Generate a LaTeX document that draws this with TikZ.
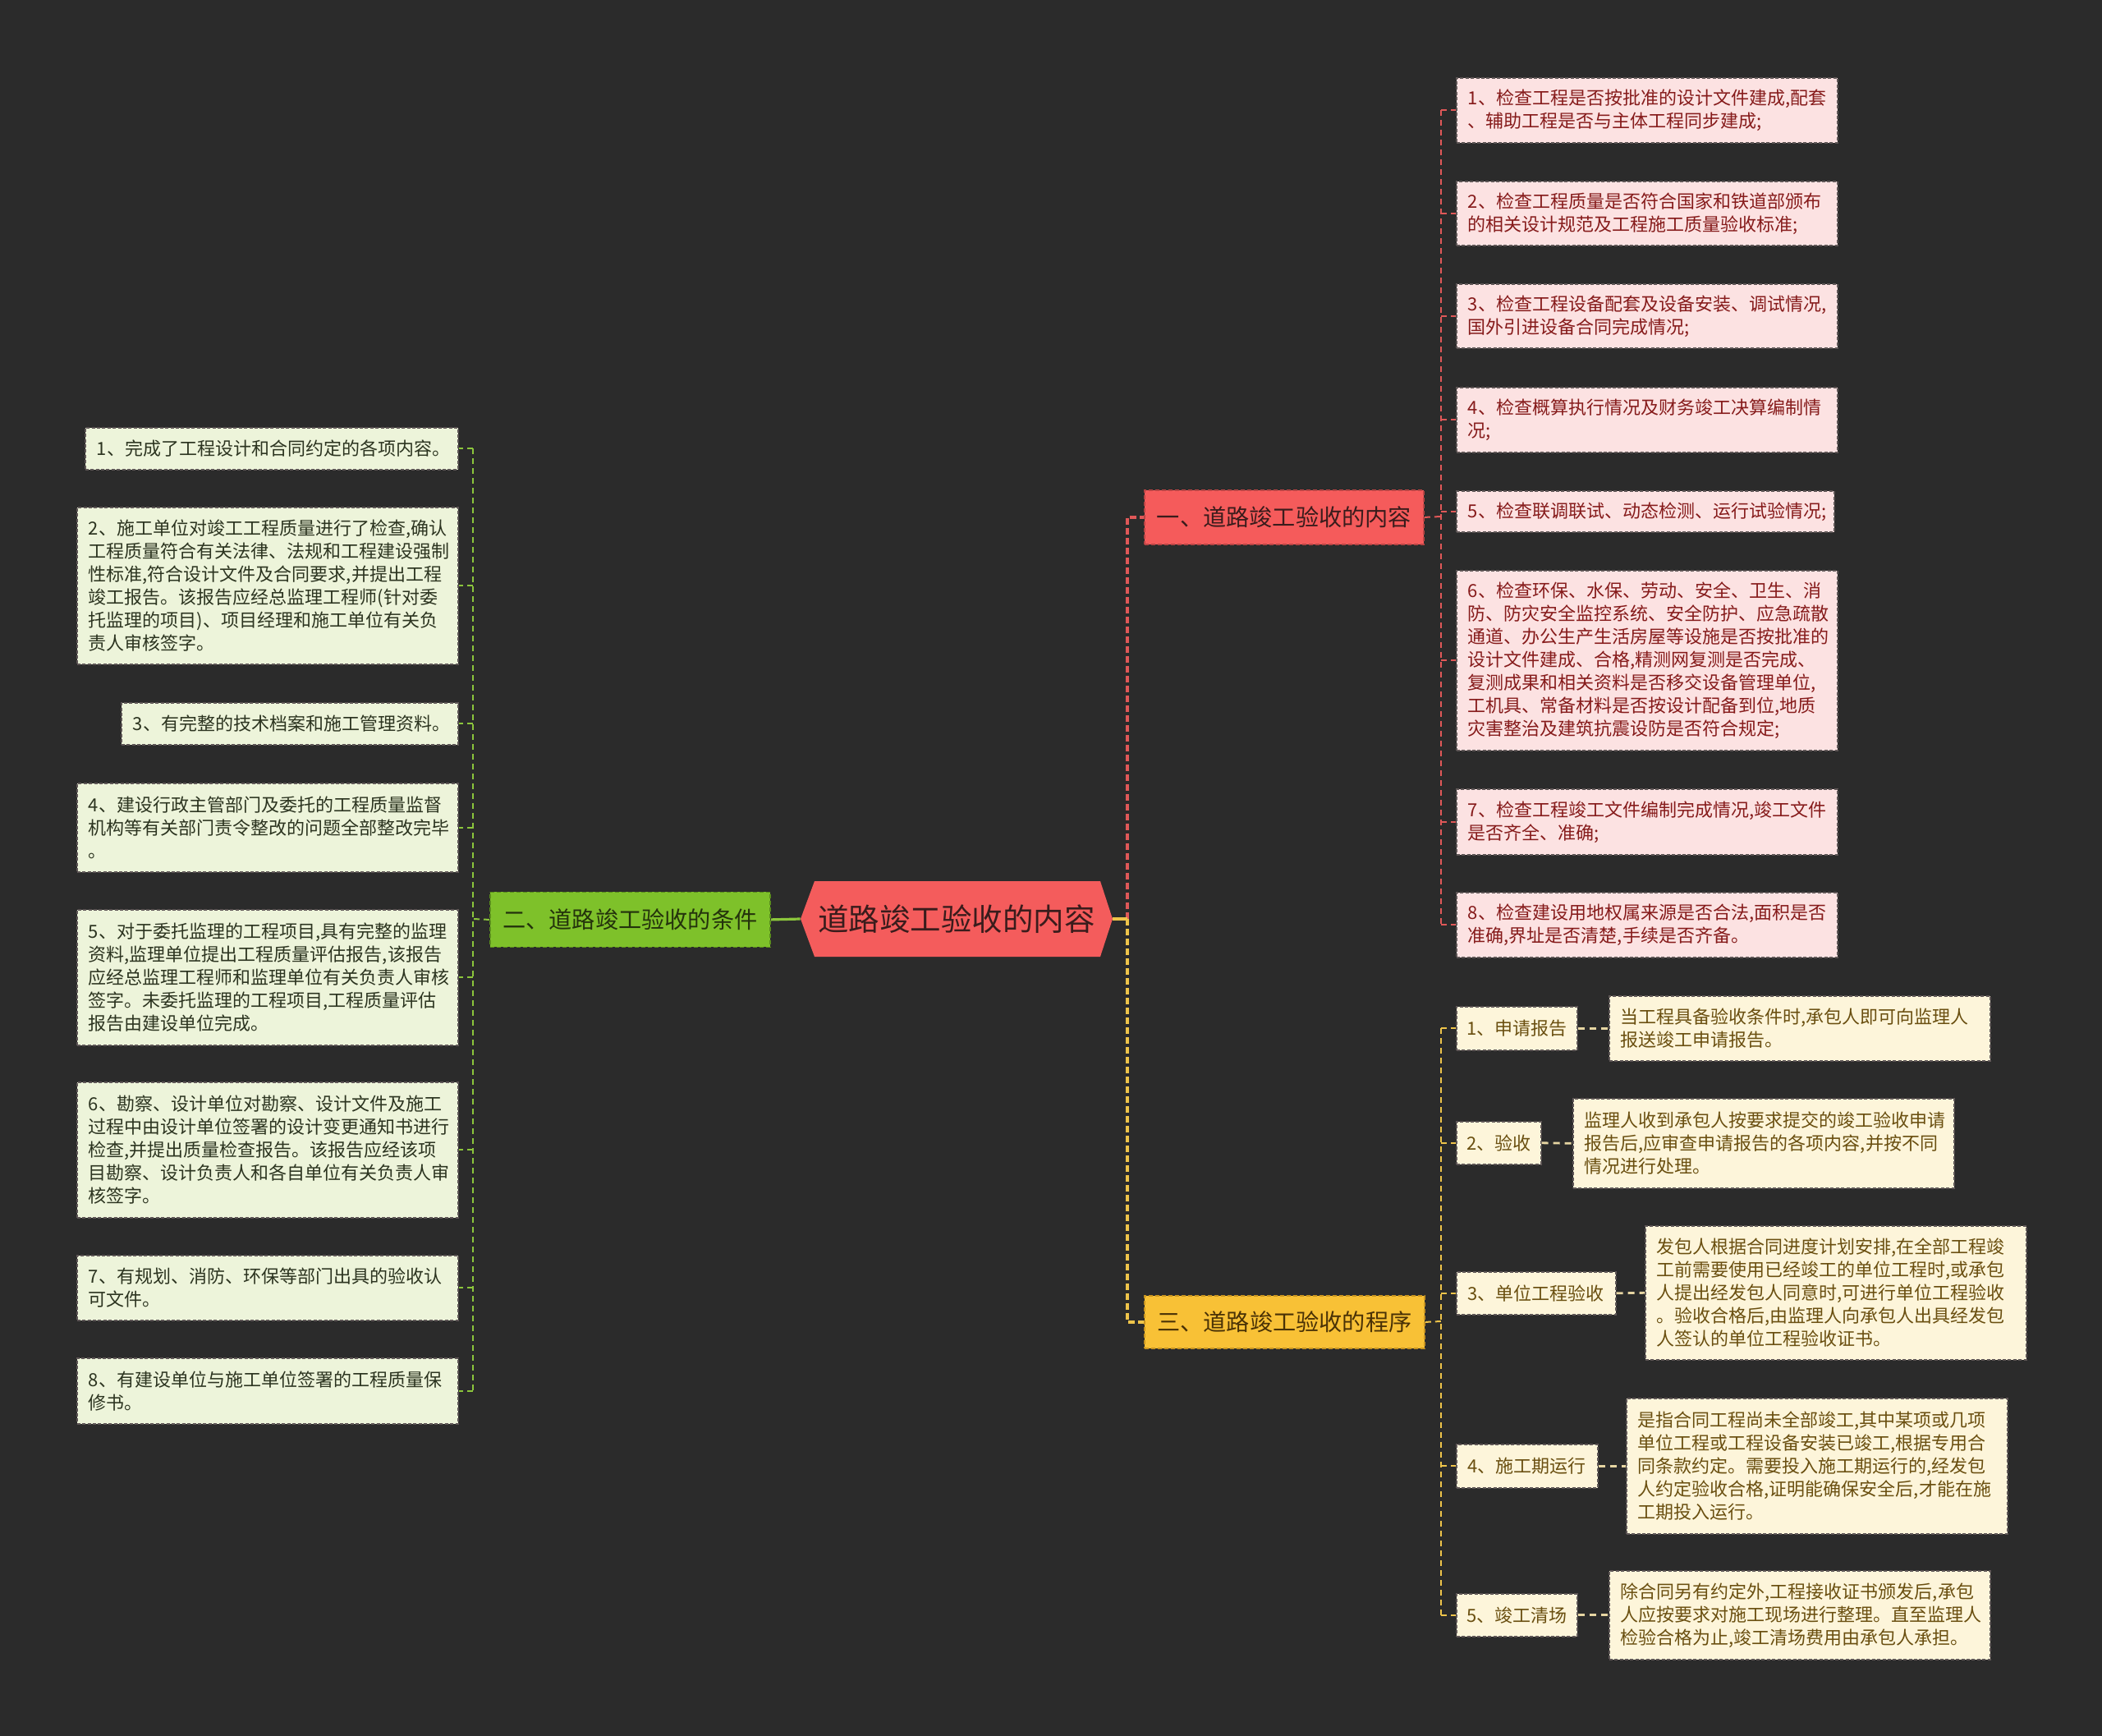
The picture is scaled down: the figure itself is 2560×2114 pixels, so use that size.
\documentclass[tikz,border=0pt]{standalone}
\usepackage{fontspec}
\newfontfamily\cjk{Noto Sans CJK SC}
\definecolor{bg}{HTML}{2B2B2B}
\definecolor{cfill}{HTML}{F45C5C}
\definecolor{ctext}{HTML}{3A1C1C}
\definecolor{rfill}{HTML}{F55B5B}
\definecolor{rline}{HTML}{E05858}
\definecolor{rborder}{HTML}{B84444}
\definecolor{gfill}{HTML}{7EC12A}
\definecolor{gline}{HTML}{8CC63C}
\definecolor{gborder}{HTML}{5A8E1C}
\definecolor{gtext}{HTML}{24330C}
\definecolor{yfill}{HTML}{F8C136}
\definecolor{yline}{HTML}{EEC44A}
\definecolor{yborder}{HTML}{C89420}
\definecolor{ytextb}{HTML}{4A3206}
\definecolor{pinkfill}{HTML}{FCE2E2}
\definecolor{pinktext}{HTML}{861B1B}
\definecolor{lgfill}{HTML}{EDF4DA}
\definecolor{lgtext}{HTML}{2C3420}
\definecolor{crfill}{HTML}{FDF5DA}
\definecolor{crtext}{HTML}{6A4F10}
\definecolor{crline}{HTML}{E6D5A2}
\definecolor{boxborder}{HTML}{5E5656}
\begin{document}
\begin{tikzpicture}[x=0.5pt,y=-0.5pt,
  branch/.style={draw, line width=0.9pt, dash pattern=on 2.5pt off 1.5pt, anchor=north west, inner sep=0pt,
    font=\cjk\fontsize{14.1}{17}\selectfont},
  leaf/.style={draw=boxborder, line width=0.8pt, dash pattern=on 2pt off 1.2pt, anchor=north west,
    align=left, inner ysep=0pt, inner xsep=7pt, text width=218pt, font=\cjk\fontsize{11}{14}\selectfont},
  pinkbox/.style={leaf, fill=pinkfill, text=pinktext},
  greenbox/.style={leaf, fill=lgfill, text=lgtext},
  creambox/.style={leaf, fill=crfill, text=crtext},
  labelbox/.style={draw=boxborder, line width=0.8pt, dash pattern=on 2pt off 1.2pt, anchor=north west,
    fill=crfill, text=crtext, inner sep=0pt, align=center, font=\cjk\fontsize{11}{14}\selectfont},
  mainline/.style={line width=1.6pt, dash pattern=on 4pt off 2pt},
  subline/.style={line width=1pt, dash pattern=on 3.5pt off 2.5pt},
  sz/.style 2 args={minimum width=#1*0.5pt, minimum height=#2*0.5pt}
]
\fill[bg] (0,0) rectangle (2560,2114);
\useasboundingbox (0,0) rectangle (2560,2114);

% ---------- center ----------
\fill[cfill] (975,1119) -- (992,1073) -- (1340,1073) -- (1355,1119) -- (1340,1165) -- (992,1165) -- cycle;
\node[sz={380}{92}, inner sep=0pt, text=ctext, font=\cjk\fontsize{18.75}{22}\selectfont] (c) at (1165,1119) {道路竣工验收的内容};

% ---------- branches ----------
\node[branch, sz={340}{66}, draw=rborder, fill=rfill, text=ctext] (b1) at (1393,596) {一、道路竣工验收的内容};
\node[branch, sz={341}{67}, draw=gborder, fill=gfill, text=gtext] (b2) at (596,1085.5) {二、道路竣工验收的条件};
\node[branch, sz={341}{64}, draw=yborder, fill=yfill, text=ytextb] (b3) at (1393,1577) {三、道路竣工验收的程序};

% ---------- pink leaves ----------
\node[pinkbox, sz={464}{79}] (p1) at (1773,94) {1、检查工程是否按批准的设计文件建成,配套\\、辅助工程是否与主体工程同步建成;};
\node[pinkbox, sz={464}{78}] (p2) at (1773,220) {2、检查工程质量是否符合国家和铁道部颁布\\的相关设计规范及工程施工质量验收标准;};
\node[pinkbox, sz={464}{78}] (p3) at (1773,345) {3、检查工程设备配套及设备安装、调试情况,\\国外引进设备合同完成情况;};
\node[pinkbox, sz={464}{79}] (p4) at (1773,471) {4、检查概算执行情况及财务竣工决算编制情\\况;};
\node[pinkbox, sz={460}{50}, text width=216pt] (p5) at (1773,597) {5、检查联调联试、动态检测、运行试验情况;};
\node[pinkbox, sz={464}{219}] (p6) at (1773,694) {6、检查环保、水保、劳动、安全、卫生、消\\防、防灾安全监控系统、安全防护、应急疏散\\通道、办公生产生活房屋等设施是否按批准的\\设计文件建成、合格,精测网复测是否完成、\\复测成果和相关资料是否移交设备管理单位,\\工机具、常备材料是否按设计配备到位,地质\\灾害整治及建筑抗震设防是否符合规定;};
\node[pinkbox, sz={464}{80}] (p7) at (1773,960) {7、检查工程竣工文件编制完成情况,竣工文件\\是否齐全、准确;};
\node[pinkbox, sz={464}{79}] (p8) at (1773,1086) {8、检查建设用地权属来源是否合法,面积是否\\准确,界址是否清楚,手续是否齐备。};

% ---------- green leaves ----------
\node[greenbox, sz={454}{51}, text width=213pt] (g1) at (103,520) {1、完成了工程设计和合同约定的各项内容。};
\node[greenbox, sz={464}{191}] (g2) at (93,617) {2、施工单位对竣工工程质量进行了检查,确认\\工程质量符合有关法律、法规和工程建设强制\\性标准,符合设计文件及合同要求,并提出工程\\竣工报告。该报告应经总监理工程师(针对委\\托监理的项目)、项目经理和施工单位有关负\\责人审核签字。};
\node[greenbox, sz={410}{51}, text width=191pt] (g3) at (147,855) {3、有完整的技术档案和施工管理资料。};
\node[greenbox, sz={464}{108}] (g4) at (93,953) {4、建设行政主管部门及委托的工程质量监督\\机构等有关部门责令整改的问题全部整改完毕\\。};
\node[greenbox, sz={464}{165}] (g5) at (93,1107) {5、对于委托监理的工程项目,具有完整的监理\\资料,监理单位提出工程质量评估报告,该报告\\应经总监理工程师和监理单位有关负责人审核\\签字。未委托监理的工程项目,工程质量评估\\报告由建设单位完成。};
\node[greenbox, sz={464}{165}] (g6) at (93,1317) {6、勘察、设计单位对勘察、设计文件及施工\\过程中由设计单位签署的设计变更通知书进行\\检查,并提出质量检查报告。该报告应经该项\\目勘察、设计负责人和各自单位有关负责人审\\核签字。};
\node[greenbox, sz={464}{79}] (g7) at (93,1528) {7、有规划、消防、环保等部门出具的验收认\\可文件。};
\node[greenbox, sz={464}{80}] (g8) at (93,1653) {8、有建设单位与施工单位签署的工程质量保\\修书。};

% ---------- cream labels and details ----------
\node[labelbox, sz={147}{53}] (y1) at (1773,1225) {1、申请报告};
\node[labelbox, sz={103}{52}] (y2) at (1773,1365) {2、验收};
\node[labelbox, sz={194}{52}] (y3) at (1773,1548) {3、单位工程验收};
\node[labelbox, sz={172}{53}] (y4) at (1773,1758) {4、施工期运行};
\node[labelbox, sz={147}{52}] (y5) at (1773,1940) {5、竣工清场};

\node[creambox, sz={462}{79}] (d1) at (1959,1212) {当工程具备验收条件时,承包人即可向监理人\\报送竣工申请报告。};
\node[creambox, sz={462}{109}] (d2) at (1915,1337) {监理人收到承包人按要求提交的竣工验收申请\\报告后,应审查申请报告的各项内容,并按不同\\情况进行处理。};
\node[creambox, sz={462}{163}] (d3) at (2003,1492) {发包人根据合同进度计划安排,在全部工程竣\\工前需要使用已经竣工的单位工程时,或承包\\人提出经发包人同意时,可进行单位工程验收\\。验收合格后,由监理人向承包人出具经发包\\人签认的单位工程验收证书。};
\node[creambox, sz={462}{165}] (d4) at (1980,1702) {是指合同工程尚未全部竣工,其中某项或几项\\单位工程或工程设备安装已竣工,根据专用合\\同条款约定。需要投入施工期运行的,经发包\\人约定验收合格,证明能确保安全后,才能在施\\工期投入运行。};
\node[creambox, sz={462}{108}] (d5) at (1959,1912) {除合同另有约定外,工程接收证书颁发后,承包\\人应按要求对施工现场进行整理。直至监理人\\检验合格为止,竣工清场费用由承包人承担。};

% ---------- trunk coordinates ----------
\coordinate (tc) at (1373,1119);
\coordinate (tr) at (1755,629);
\coordinate (tg) at (576,1119);
\coordinate (ty) at (1755,1609);

% ---------- main connectors ----------
\draw[mainline, rline] (tc) |- (b1.west);
\draw[mainline, yline] (tc) |- (b3.west);
\draw[line width=1.6pt, yline] (c.east) -- (tc);
\draw[line width=1.6pt, gline] (b2.east) -- (c.west);

% ---------- branch 1 children ----------
\draw[subline, rline] (b1.east) -- (tr);
\draw[subline, rline] (tr |- p1.west) -- (tr |- p8.west);
\foreach \n in {p1,p2,p3,p4,p5,p6,p7,p8}
  \draw[subline, rline] (tr |- \n.west) -- (\n.west);

% ---------- branch 2 children ----------
\draw[subline, gline] (b2.west) -- (tg);
\draw[subline, gline] (tg |- g1.east) -- (tg |- g8.east);
\foreach \n in {g1,g2,g3,g4,g5,g6,g7,g8}
  \draw[subline, gline] (tg |- \n.east) -- (\n.east);

% ---------- branch 3 children ----------
\draw[subline, yline] (b3.east) -- (ty);
\draw[subline, yline] (ty |- y1.west) -- (ty |- y5.west);
\foreach \n in {y1,y2,y3,y4,y5}
  \draw[subline, yline] (ty |- \n.west) -- (\n.west);
\foreach \a/\b in {y1/d1,y2/d2,y3/d3,y4/d4,y5/d5}
  \draw[line width=1.4pt, dash pattern=on 4pt off 3pt, crline] (\a.east) -- (\b.west);
\end{tikzpicture}
\end{document}
